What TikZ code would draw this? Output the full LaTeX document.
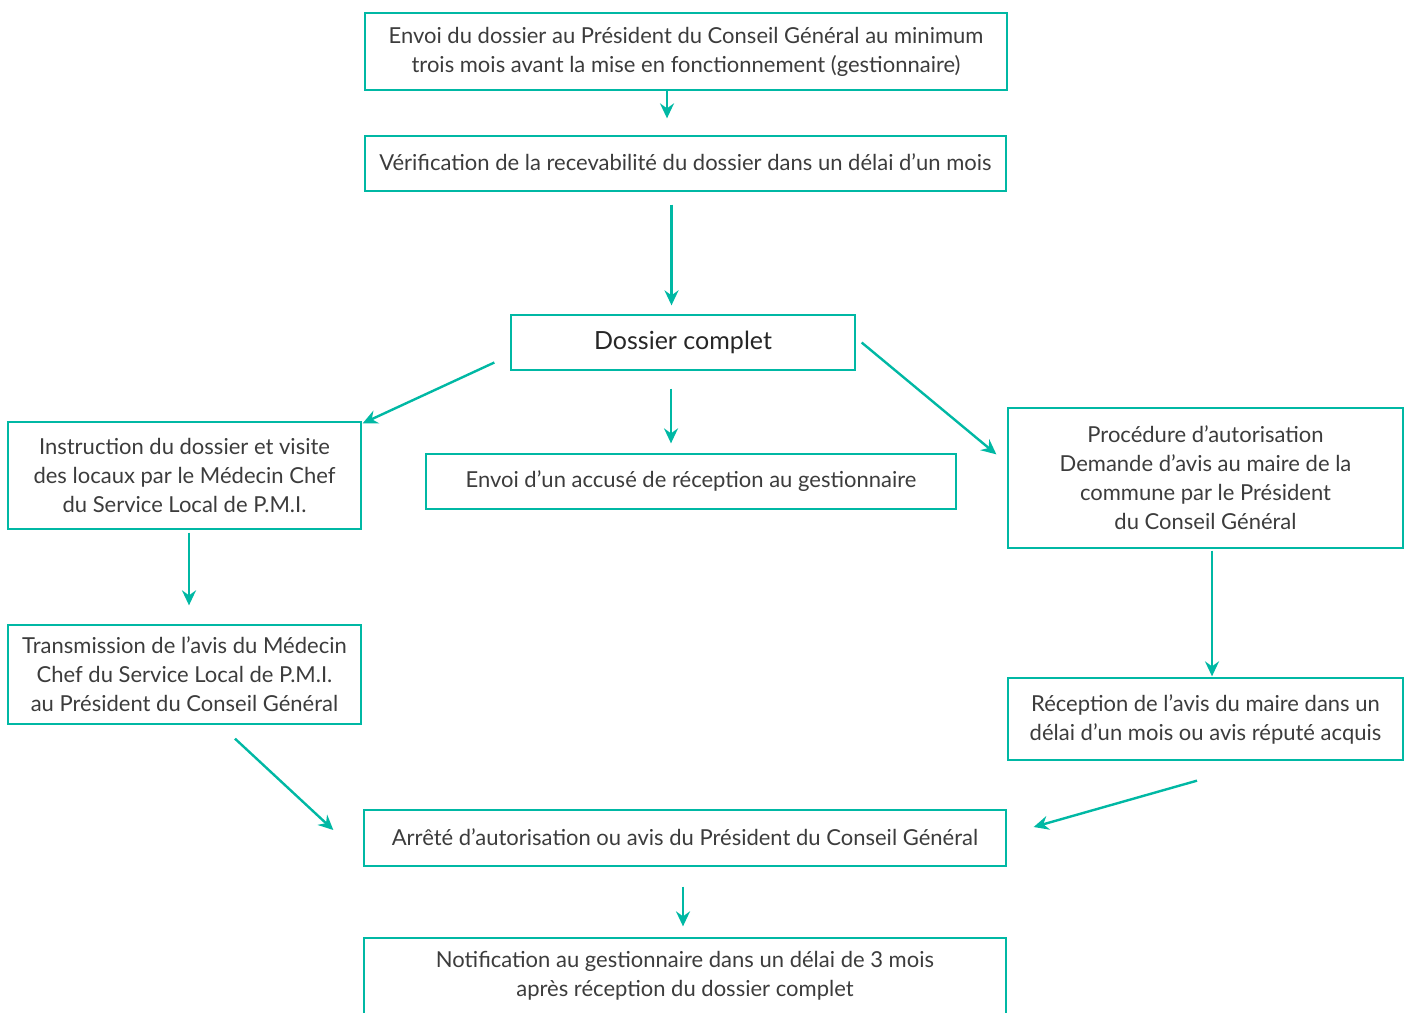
\documentclass[tikz,border=0pt]{standalone}
\usepackage{fontspec}
\setmainfont{Lato}
\usetikzlibrary{arrows.meta}
\definecolor{turq}{RGB}{0,184,164}
\definecolor{txtgrey}{RGB}{60,60,60}

\begin{document}
\begin{tikzpicture}[x=1pt, y=-1pt,
    box/.style={draw=turq, line width=1.3pt, align=center, inner sep=0pt,
                text=txtgrey, font=\fontsize{22}{29}\selectfont},
    arr/.style={draw=turq, line width=2.4pt,
                -{Stealth[length=15pt, width=14pt, inset=5pt]}}]
    \useasboundingbox (0, 0) rectangle (1407, 1012);
    % central column
    \node [box, minimum width=642, minimum height=77] (0) at (686, 51.5)
        {Envoi du dossier au Président du Conseil Général au minimum\\trois mois avant la mise en fonctionnement (gestionnaire)};
    \node [box, minimum width=641, minimum height=55] (1) at (685.5, 163.5)
        {\raisebox{3pt}{Vérification de la recevabilité du dossier dans un délai d’un mois}};
    \node [box, minimum width=344, minimum height=55, text=black!85,
           font=\fontsize{25}{29}\selectfont] (2) at (683, 342.5) {Dossier complet};
    \node [box, minimum width=530, minimum height=55] (4) at (691, 481.5)
        {\raisebox{2pt}{Envoi d’un accusé de réception au gestionnaire}};
    % left branch
    \node [box, minimum width=353, minimum height=107] (3) at (184.5, 475.5)
        {Instruction du dossier et visite\\des locaux par le Médecin Chef\\du Service Local de P.M.I.};
    \node [box, minimum width=353, minimum height=99] (6) at (184.5, 674.5)
        {Transmission de l’avis du Médecin\\Chef du Service Local de P.M.I.\\au Président du Conseil Général};
    % right branch
    \node [box, minimum width=395, minimum height=140] (5) at (1205.5, 478)
        {Procédure d’autorisation\\Demande d’avis au maire de la\\commune par le Président\\du Conseil Général};
    \node [box, minimum width=395, minimum height=82] (7) at (1205.5, 719)
        {Réception de l’avis du maire dans un\\délai d’un mois ou avis réputé acquis};
    % decision
    \node [box, minimum width=642, minimum height=56] (8) at (685, 838)
        {\raisebox{2pt}{Arrêté d'autorisation ou avis du Président du Conseil Général}};
    \node [box, minimum width=642, minimum height=76] (9) at (685, 976)
        {Notification au gestionnaire dans un délai de 3 mois\\après réception du dossier complet};
    % arrows
    \draw [arr, shorten >=17pt] ([xshift=-19pt]0.south) -- ([xshift=-19pt]0.south |- 1.north);
    \draw [arr, shorten <=13pt, shorten >=9pt] ([xshift=-14pt]1.south) -- ([xshift=-14pt]1.south |- 2.north);
    \draw [arr, shorten <=18pt, shorten >=10pt] ([xshift=-12pt]2.south) -- ([xshift=-12pt]2.south |- 4.north);
    \draw [arr] ([shift={(-16pt,-20pt)}]2.west) -- ([shift={(1pt,-2pt)}]3.north east);
    \draw [arr] ([xshift=6pt]2.east) -- ([shift={(-11pt,-47pt)}]5.north west);
    \draw [arr, shorten <=3pt, shorten >=19pt] ([xshift=4.5pt]3.south) -- ([xshift=4.5pt]3.south |- 6.north);
    \draw [arr, shorten <=2pt, shorten >=1pt] ([xshift=6.5pt]5.south) -- ([xshift=6.5pt]5.south |- 7.north);
    \draw [arr] ([shift={(50.5pt,-14pt)}]6.south) -- ([shift={(-30pt,8pt)}]8.west);
    \draw [arr] ([shift={(-8.5pt,-20pt)}]7.south) -- ([shift={(27pt,11pt)}]8.east);
    \draw [arr, shorten <=20pt, shorten >=11pt] ([xshift=-2pt]8.south) -- ([xshift=-2pt]8.south |- 9.north);
\end{tikzpicture}
\end{document}
